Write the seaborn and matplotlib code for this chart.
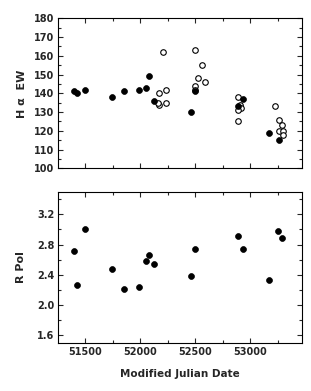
import matplotlib
matplotlib.use("Agg")
import matplotlib.pyplot as plt
import seaborn as sns
import pandas as pd
from matplotlib.ticker import MultipleLocator

sns.set_style("ticks")
plt.rcParams['font.family'] = ['DejaVu Sans']
plt.rcParams['font.weight'] = 'bold'

# H-alpha EW, filled symbols
ha_filled_mjd = [51394, 51424, 51494, 51743, 51848, 51991, 52055, 52082, 52121, 52457, 52500, 52885, 52934, 53167, 53258]
ha_filled_ew = [141, 140, 142, 138, 141, 142, 143, 149, 136, 130, 141, 133, 137, 119, 115]
# H-alpha EW, open symbols
ha_open_mjd = [52203, 52172, 52233, 52169, 52233, 52160, 52494, 52558, 52527, 52588, 52500, 52500,
               52885, 52909, 52915, 52885, 52885, 53227, 53258, 53288, 53258, 53297, 53297]
ha_open_ew = [162, 140, 142, 134, 135, 135, 163, 155, 148, 146, 144, 142,
              138, 134, 132, 131, 125, 133, 126, 123, 120, 120, 118]
# R-band polarization
pol_mjd = [51394, 51424, 51494, 51743, 51848, 51991, 52055, 52082, 52121, 52461, 52500, 52885, 52930, 53167, 53252, 53288]
pol_val = [2.71, 2.26, 3.00, 2.48, 2.21, 2.235, 2.58, 2.665, 2.54, 2.39, 2.745, 2.915, 2.735, 2.325, 2.98, 2.89]

df_f = pd.DataFrame({"mjd": ha_filled_mjd, "ew": ha_filled_ew})
df_o = pd.DataFrame({"mjd": ha_open_mjd, "ew": ha_open_ew})
df_p = pd.DataFrame({"mjd": pol_mjd, "pol": pol_val})

fig = plt.figure(figsize=(3.11, 3.91), dpi=100)
ax1 = fig.add_axes([0.1875, 0.5696, 0.7825, 0.3834])
ax2 = fig.add_axes([0.1875, 0.1235, 0.7825, 0.3862])

sns.scatterplot(data=df_o, x="mjd", y="ew", ax=ax1, marker="o", s=16,
                facecolor="white", edgecolor="black", linewidth=0.8, zorder=3)
sns.scatterplot(data=df_f, x="mjd", y="ew", ax=ax1, marker="o", s=18,
                color="black", edgecolor="black", linewidth=0.5, zorder=4)
sns.scatterplot(data=df_p, x="mjd", y="pol", ax=ax2, marker="o", s=18,
                color="black", edgecolor="black", linewidth=0.5, zorder=4)

for ax in (ax1, ax2):
    ax.set_xlim(51255, 53465)
    ax.xaxis.set_major_locator(MultipleLocator(500))
    ax.xaxis.set_minor_locator(MultipleLocator(250))
    ax.tick_params(which="both", direction="in", top=True, right=True, width=0.8,
                   labelsize=7, pad=3)
    ax.tick_params(which="major", length=3.5)
    ax.tick_params(which="minor", length=2.5)
    for sp in ax.spines.values():
        sp.set_linewidth(0.8)
        sp.set_color("black")

ax1.set_ylim(100, 180)
ax1.yaxis.set_major_locator(MultipleLocator(10))
ax1.yaxis.set_minor_locator(MultipleLocator(5))
ax1.set_xticklabels([])
ax1.set_xlabel("")
ax1.set_ylabel("H α  EW", fontsize=8, fontweight="bold", labelpad=5)

ax2.set_ylim(1.5, 3.5)
ax2.yaxis.set_major_locator(MultipleLocator(0.4))
ax2.yaxis.set_minor_locator(MultipleLocator(0.2))
ax2.yaxis.set_major_formatter(matplotlib.ticker.FormatStrFormatter("%.1f"))
ax2.set_xlabel("Modified Julian Date", fontsize=7.5, fontweight="bold", labelpad=9)
ax2.set_ylabel("R Pol", fontsize=8, fontweight="bold", labelpad=8)
for ax in (ax1, ax2):
    for lab in ax.get_xticklabels() + ax.get_yticklabels():
        lab.set_fontweight("bold")

fig.savefig("out.png", dpi=100)
